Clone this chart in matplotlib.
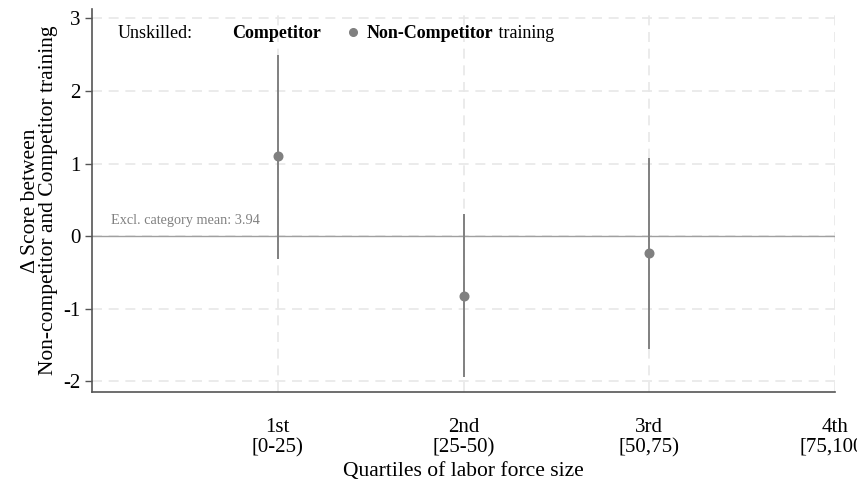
import matplotlib.pyplot as plt
import numpy as np

plt.rcParams['font.family'] = ['Liberation Serif', 'DejaVu Serif']

# data
quartiles = [1, 2, 3]
tick_pos = [1, 2, 3, 4]
tick_labels = ['1st\n[0-25)', '2nd\n[25-50)', '3rd\n[50,75)', '4th\n[75,100)']
delta = [1.10, -0.83, -0.23]
ci_low = [-0.32, -1.94, -1.56]
ci_high = [2.50, 0.30, 1.08]
excl_mean = 3.94

fig = plt.figure(figsize=(8.57, 4.87), dpi=100)
ax = fig.add_axes([0.1074, 0.195, 0.8670, 0.7865])

grid_col = '#e8e8e8'
for y in range(-2, 4):
    ax.axhline(y, color=grid_col, lw=1.2, ls=(0, (6, 4)), zorder=0)
for x in tick_pos:
    ax.axvline(x, color=grid_col, lw=1.2, ls=(0, (6, 4)), zorder=0)
ax.axhline(0, color='#a0a0a0', lw=1.0, zorder=1)

pt_col = '#808080'
ax.vlines(quartiles, ci_low, ci_high, color=pt_col, lw=1.4, zorder=2)
ax.plot(quartiles, delta, 'o', color=pt_col, ms=6.2, zorder=3)

ax.set_xlim(0, 4)
ax.set_ylim(-2.15, 3.13)
ax.set_yticks(range(-2, 4))
ax.set_yticklabels([str(v) for v in range(-2, 4)])
ax.set_xticks(tick_pos)
ax.set_xticklabels(tick_labels, linespacing=1.05)
ax.tick_params(axis='y', labelsize=15, length=5, color='#555555', width=1.0, pad=3)
ax.tick_params(axis='x', labelsize=15, length=0, pad=19)

for s in ['top', 'right']:
    ax.spines[s].set_visible(False)
for s in ['left', 'bottom']:
    ax.spines[s].set_color('#555555')
    ax.spines[s].set_linewidth(1.2)

ax.set_xlabel('Quartiles of labor force size', fontsize=15.5, labelpad=3)
ax.set_ylabel('\u0394 Score between\nNon-competitor and Competitor training', fontsize=15.5,
              labelpad=4, linespacing=0.95)

ax.text(0.1, 0.13, 'Excl. category mean: %.2f' % excl_mean, fontsize=10.3, color='#808080',
        va='bottom', ha='left')

# legend-like header
ly = 0.937
ax.text(0.034, ly, 'Unskilled:', transform=ax.transAxes, fontsize=13, va='center')
ax.text(0.188, ly, 'Competitor', transform=ax.transAxes, fontsize=13, va='center', fontweight='bold')
ax.plot([0.351], [ly + 0.004], 'o', color=pt_col, ms=5.5, transform=ax.transAxes, clip_on=False)
t3 = ax.text(0.370, ly, 'Non-Competitor', transform=ax.transAxes, fontsize=13, va='center', fontweight='bold')
ax.annotate(' training', xy=(1, 0.5), xycoords=t3, va='center', ha='left', fontsize=13)

fig.savefig('out.png', dpi=100)
